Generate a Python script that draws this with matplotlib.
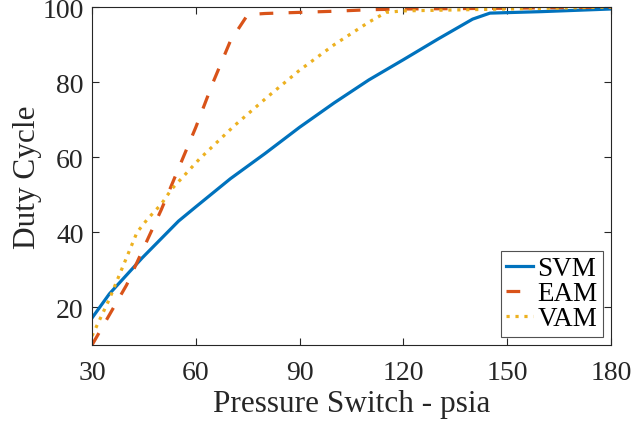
import numpy as np
import matplotlib
matplotlib.use("Agg")
import matplotlib.pyplot as plt

plt.rcParams["font.family"] = ["Liberation Serif", "DejaVu Serif"]

# values
svm_x = [30, 35, 44.5, 55, 60, 70, 80, 90, 100, 110, 120, 130, 140, 145, 160, 180]
svm_y = [17.2, 23.6, 33.2, 43, 46.8, 54.3, 61, 68, 74.5, 80.6, 86, 91.5, 96.8, 98.4, 98.8, 99.5]

eam_x = [30, 35, 40, 45, 50, 55, 60, 65, 70, 75, 80, 90, 100, 110, 120, 150, 180]
eam_y = [10, 18, 26, 36, 46, 57, 68, 80, 91, 98, 98.3, 98.6, 98.9, 99.3, 99.5, 99.7, 100]

vam_x = [30, 35, 43, 46, 50, 53, 61, 71, 81, 90, 100, 110, 115, 120, 150, 180]
vam_y = [12.4, 22.2, 40, 43.5, 47.5, 51.5, 59.5, 68.3, 76.3, 83.2, 90, 96, 98.6, 99, 99.5, 100]

labels = ["SVM", "EAM", "VAM"]
colors = ["#0072BD", "#D95319", "#EDB120"]

fig = plt.figure(figsize=(6.32, 4.27), dpi=100)
ax = fig.add_axes([0.1456, 0.1897, 0.8212, 0.7913])

lw = 2.3
ax.plot(svm_x, svm_y, color=colors[0], lw=lw, label=labels[0])
ax.plot(eam_x, eam_y, color=colors[1], lw=lw, dashes=(4.3, 4.8), label=labels[1])
ax.plot(vam_x, vam_y, color=colors[2], lw=lw, dashes=(1.0, 1.8), label=labels[2])

ax.set_xlim(30, 180)
ax.set_ylim(10, 100)
ax.set_xticks([30, 60, 90, 120, 150, 180])
ax.set_yticks([20, 40, 60, 80, 100])

ax.tick_params(direction="in", length=5, width=0.8, top=True, right=True,
               labelsize=20, colors="#262626")
ax.tick_params(axis="x", pad=11)
ax.tick_params(axis="y", pad=6)
for s in ax.spines.values():
    s.set_color("#262626")
    s.set_linewidth(0.8)

ax.set_xlabel("Pressure Switch - psia", fontsize=22.5, color="#262626", labelpad=3)
ax.set_ylabel("Duty Cycle", fontsize=22.5, color="#262626", labelpad=0)

leg = ax.legend(loc="lower right", fontsize=19.5, frameon=True, fancybox=False,
                edgecolor="#262626", handlelength=1.0, handletextpad=0.15,
                labelspacing=0.0, borderpad=0.2, borderaxespad=0.3)
leg.get_frame().set_linewidth(0.8)

fig.savefig("out.png", dpi=100)
